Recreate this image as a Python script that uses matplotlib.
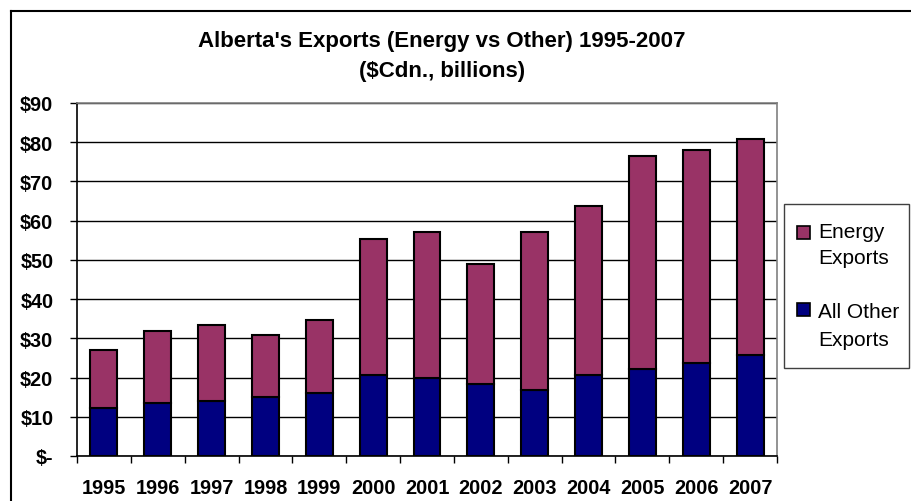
import matplotlib
matplotlib.use("Agg")
import matplotlib.pyplot as plt
from matplotlib.patches import Rectangle
from matplotlib.lines import Line2D
import numpy as np

plt.rcParams['font.family'] = ['Liberation Sans', 'DejaVu Sans']

years = ['1995', '1996', '1997', '1998', '1999', '2000', '2001', '2002',
         '2003', '2004', '2005', '2006', '2007']
other_exports = [12.2, 13.5, 14.0, 15.1, 16.1, 20.7, 19.8, 18.4, 16.9, 20.7, 22.2, 23.6, 25.7]
total_exports = [27.1, 31.9, 33.3, 30.9, 34.8, 55.2, 57.0, 49.0, 57.0, 63.8, 76.4, 77.9, 80.7]
energy_exports = [t - o for t, o in zip(total_exports, other_exports)]
y_ticks = [0, 10, 20, 30, 40, 50, 60, 70, 80, 90]
y_tick_labels = ['$-', '$10', '$20', '$30', '$40', '$50', '$60', '$70', '$80', '$90']
legend_labels = [['Energy', 'Exports'], ['All Other', 'Exports']]

ENERGY = '#993366'
OTHER = '#000080'

W, H = 911, 502
fig = plt.figure(figsize=(W / 100, H / 100), dpi=100)
ax = fig.add_axes([77 / W, 1 - 457 / H, 700 / W, 353 / H])

x = np.arange(len(years))
ax.bar(x, other_exports, width=0.5, color=OTHER, edgecolor='black', linewidth=1.5, zorder=3)
ax.bar(x, energy_exports, width=0.5, bottom=other_exports, color=ENERGY,
       edgecolor='black', linewidth=1.5, zorder=3)

ax.set_xlim(-0.5, len(years) - 0.5)
ax.set_ylim(0, 90)
ax.set_yticks(y_ticks)
ax.set_yticklabels(y_tick_labels, fontsize=14.3, fontweight='bold')
ax.yaxis.grid(True, color='black', linewidth=1.0, zorder=0)
ax.set_axisbelow(True)

ax.set_xticks(x)
ax.set_xticklabels(years, fontsize=14.3, fontweight='bold')
ax.set_xticks(np.arange(-0.5, len(years), 1), minor=True)
ax.tick_params(axis='x', which='major', length=0, pad=16)
ax.tick_params(axis='x', which='minor', length=5, width=1, color='black', direction='out')
ax.tick_params(axis='y', which='major', length=5, width=1, direction='out', pad=12)

for s in ['left', 'bottom']:
    ax.spines[s].set_color('black')
    ax.spines[s].set_linewidth(1.2)
for s in ['top', 'right']:
    ax.spines[s].set_color('#808080')
    ax.spines[s].set_linewidth(1.2)

fig.text(442 / W, 1 - 42 / H, "Alberta's Exports (Energy vs Other) 1995-2007",
         ha='center', va='center', fontsize=16, fontweight='bold')
fig.text(442 / W, 1 - 72 / H, "($Cdn., billions)",
         ha='center', va='center', fontsize=16, fontweight='bold')

# legend drawn as a box with swatches and two-line labels
fig.add_artist(Rectangle((784 / W, 1 - 369 / H), 125 / W, 164 / H, transform=fig.transFigure,
                         facecolor='white', edgecolor='#404040', linewidth=1.0))
for color, (l1, l2), ytop, b1, b2 in [(ENERGY, legend_labels[0], 227, 237.5, 264),
                                       (OTHER, legend_labels[1], 304, 318, 346)]:
    fig.add_artist(Rectangle((797 / W, 1 - (ytop + 13) / H), 13 / W, 13 / H,
                             transform=fig.transFigure, facecolor=color,
                             edgecolor='black', linewidth=1.2))
    fig.text(818 / W, 1 - b1 / H, l1, ha='left', va='baseline', fontsize=15)
    fig.text(818 / W, 1 - b2 / H, l2, ha='left', va='baseline', fontsize=15)

fig.add_artist(Line2D([10.5 / W, 10.5 / W], [0, 1 - 11.5 / H], color='black', linewidth=1.5))
fig.add_artist(Line2D([10.5 / W, 1], [1 - 11.5 / H, 1 - 11.5 / H], color='black', linewidth=1.5))

fig.savefig('out.png', dpi=100)
